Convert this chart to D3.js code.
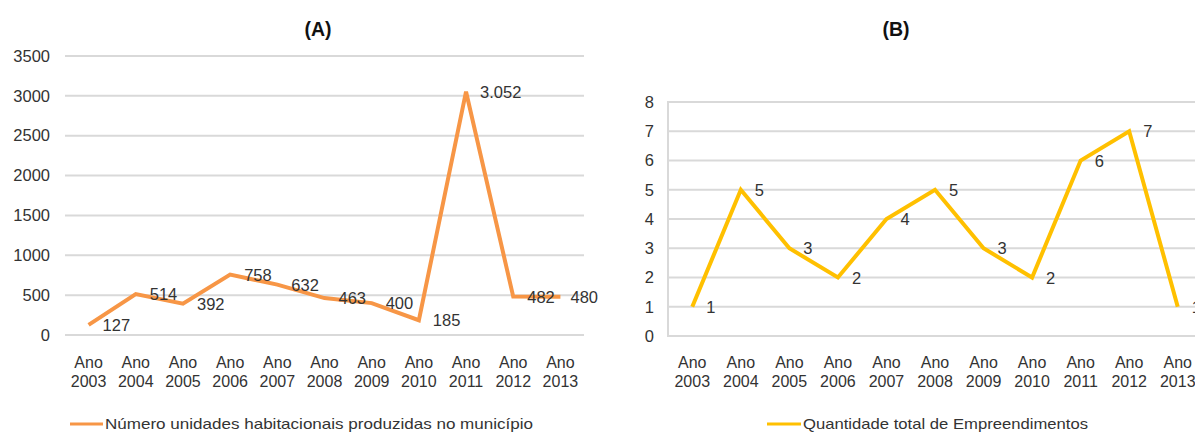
<!DOCTYPE html>
<html>
<head>
<meta charset="utf-8">
<script src="https://cdn.jsdelivr.net/npm/d3@7"></script>
<style>
  html, body { margin: 0; padding: 0; background: #fff; }
  svg { display: block; font-family: "Liberation Sans", Arial, sans-serif; }
</style>
</head>
<body>
<svg id="chart" width="1195" height="432"></svg>
<script>
// ---- data ----
const years = ["2003","2004","2005","2006","2007","2008","2009","2010","2011","2012","2013"];
const categoryPrefix = "Ano";
const unidadesValues = [127, 514, 392, 758, 632, 463, 400, 185, 3052, 482, 480];
const unidadesLabels = ["127","514","392","758","632","463","400","185","3.052","482","480"];
const empreendValues = [1, 5, 3, 2, 4, 5, 3, 2, 6, 7, 1];
const yTicksA = [0, 500, 1000, 1500, 2000, 2500, 3000, 3500];
const yTicksB = [0, 1, 2, 3, 4, 5, 6, 7, 8];
const titleA = "(A)";
const titleB = "(B)";
const legendA = "Número unidades habitacionais produzidas no município";
const legendB = "Quantidade total de Empreendimentos";

// ---- drawing ----
const svg = d3.select("#chart");
const textColor = "#333333";
const gridColor = "#d9d9d9";
const FONT = "Liberation Sans, Arial, sans-serif";

function drawPanel(cfg) {
  const g = svg.append("g");
  const x = d3.scaleBand().domain(years).range(cfg.xRange);
  const y = d3.scaleLinear().domain(cfg.yDomain).range(cfg.yRange);
  const gridRight = Math.min(cfg.xRange[1], 1195);

  // gridlines
  g.append("g").selectAll("line").data(cfg.yTicks).join("line")
    .attr("x1", cfg.xRange[0]).attr("x2", gridRight)
    .attr("y1", d => y(d)).attr("y2", d => y(d))
    .attr("stroke", gridColor).attr("stroke-width", 2);

  if (cfg.leftAxisLine) {
    g.append("line")
      .attr("x1", cfg.xRange[0]).attr("x2", cfg.xRange[0])
      .attr("y1", y(cfg.yDomain[0]) + 1).attr("y2", y(cfg.yDomain[1]) - 1)
      .attr("stroke", gridColor).attr("stroke-width", 2);
  }

  // y axis labels
  const yAxis = d3.axisLeft(y).tickValues(cfg.yTicks).tickFormat(d3.format("d"))
    .tickSize(0).tickPadding(0);
  const ya = g.append("g").attr("transform", `translate(${cfg.yLabelX},0)`).call(yAxis);
  ya.select(".domain").remove();
  ya.attr("font-size", null).attr("font-family", null);
  ya.selectAll("text").attr("font-size", 16.5).attr("fill", textColor)
    .attr("font-family", FONT);

  // x axis labels (two lines)
  const xAxis = d3.axisBottom(x).tickSize(0).tickPadding(0);
  const xa = g.append("g").call(xAxis);
  xa.select(".domain").remove();
  xa.attr("font-size", null).attr("font-family", null);
  xa.selectAll("text").each(function(d) {
    const t = d3.select(this);
    t.text(null).attr("y", 0).attr("dy", null)
      .attr("font-size", 16).attr("fill", textColor)
      .attr("font-family", FONT);
    t.append("tspan").attr("x", 0).attr("y", 368).text(categoryPrefix);
    t.append("tspan").attr("x", 0).attr("y", 387).text(d);
  });

  // line
  const line = d3.line()
    .x((d, i) => x(years[i]) + x.bandwidth() / 2)
    .y(d => y(d));
  g.append("path").datum(cfg.values)
    .attr("d", line).attr("fill", "none")
    .attr("stroke", cfg.color).attr("stroke-width", 4)
    .attr("stroke-linejoin", "miter");

  // data labels
  g.append("g").selectAll("text").data(cfg.values).join("text")
    .attr("x", (d, i) => x(years[i]) + x.bandwidth() / 2 + 14)
    .attr("y", d => y(d) + 6)
    .attr("font-size", 16.5).attr("fill", textColor)
    .attr("font-family", FONT)
    .text((d, i) => cfg.labels[i])
    .each(function() {
      if (cfg.labelMaxX) {
        const w = this.getComputedTextLength();
        const xx = +this.getAttribute("x");
        if (xx + w > cfg.labelMaxX) this.setAttribute("x", cfg.labelMaxX - w);
      }
    });

  // title
  svg.append("text").attr("x", cfg.titleX).attr("y", 36)
    .attr("text-anchor", "middle").attr("font-size", 19.5).attr("font-weight", "bold")
    .attr("fill", "#111").attr("font-family", FONT).text(cfg.title);

  // legend
  svg.append("line").attr("x1", cfg.legendX[0]).attr("x2", cfg.legendX[1])
    .attr("y1", 424).attr("y2", 424)
    .attr("stroke", cfg.color).attr("stroke-width", 3);
  svg.append("text").attr("x", cfg.legendX[1] + 2).attr("y", 429)
    .attr("font-size", 15).attr("fill", textColor).attr("font-family", FONT)
    .attr("textLength", cfg.legendWidth).attr("lengthAdjust", "spacingAndGlyphs")
    .text(cfg.legend);
}

drawPanel({
  xRange: [65, 584], yDomain: [0, 3500], yRange: [335, 56],
  yTicks: yTicksA, yLabelX: 50, values: unidadesValues, labels: unidadesLabels,
  color: "#f79646", title: titleA, titleX: 318,
  legend: legendA, legendX: [70, 103], legendWidth: 428, labelMaxX: 598,
  leftAxisLine: false
});

drawPanel({
  xRange: [668, 1202], yDomain: [0, 8], yRange: [336, 102],
  yTicks: yTicksB, yLabelX: 654, values: empreendValues,
  labels: empreendValues.map(String),
  color: "#ffc000", title: titleB, titleX: 896,
  legend: legendB, legendX: [767, 801], legendWidth: 285, labelMaxX: null,
  leftAxisLine: true
});
</script>
</body>
</html>
